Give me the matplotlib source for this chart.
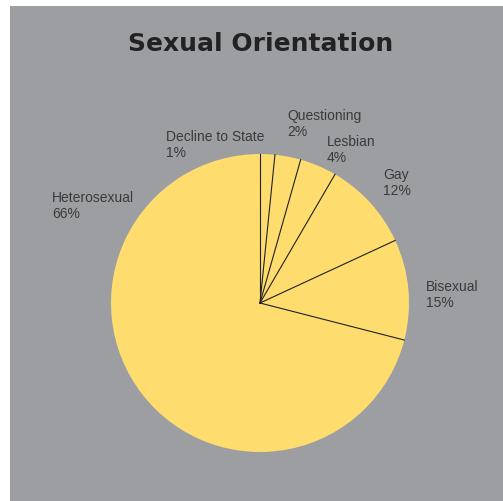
import matplotlib.pyplot as plt
from matplotlib.patches import Rectangle
import numpy as np

labels = ["Decline to State", "Questioning", "Lesbian", "Gay", "Bisexual", "Heterosexual"]
# printed percentages
pct_text = ["1%", "2%", "4%", "12%", "15%", "66%"]
# slice sizes as drawn in the picture (measured from the wedge angles)
slice_sizes = [1.6, 2.8, 4.0, 9.7, 10.9, 71.0]

# label anchor positions (pixel coords, top-left of text)
label_pos = {
    "Decline to State": (166, 130),
    "Questioning": (287, 109),
    "Lesbian": (327, 135),
    "Gay": (383, 168),
    "Bisexual": (426, 280),
    "Heterosexual": (52, 191),
}

W, H = 503, 502
fig = plt.figure(figsize=(W / 100, H / 100), dpi=100)
fig.patch.set_facecolor("white")
ax = fig.add_axes([0, 0, 1, 1])

gray = "#9d9ea1"
yellow = "#fedd6e"
ax.add_patch(Rectangle((10, 0), W - 10, H - 7, facecolor=gray, edgecolor="none", zorder=0))

cx, cy, r = 260, H - 304, 149
wedges, _ = ax.pie(slice_sizes, colors=[yellow] * len(slice_sizes), startangle=90, counterclock=False,
                   center=(cx, cy), radius=r, frame=True,
                   wedgeprops=dict(linewidth=0, edgecolor="none"))
ax.set_xlim(0, W)
ax.set_ylim(0, H)
ax.axis("off")
# thin dark dividers between slices
for w in wedges:
    t = np.deg2rad(w.theta1)
    ax.plot([cx, cx + r * np.cos(t)], [cy, cy + r * np.sin(t)], color="#222222", lw=0.8, zorder=5)

ax.text(261, H - 51, "Sexual Orientation", ha="center", va="baseline", fontsize=18,
        fontweight="bold", color="#222222", family="DejaVu Sans")

for lab, p in zip(labels, pct_text):
    x, y = label_pos[lab]
    ax.text(x, H - y, f"{lab}\n{p}", ha="left", va="top", fontsize=10,
            color="#3a3a3a", family="Liberation Sans", linespacing=1.15)

fig.savefig("out.png", dpi=100, facecolor=fig.get_facecolor())
